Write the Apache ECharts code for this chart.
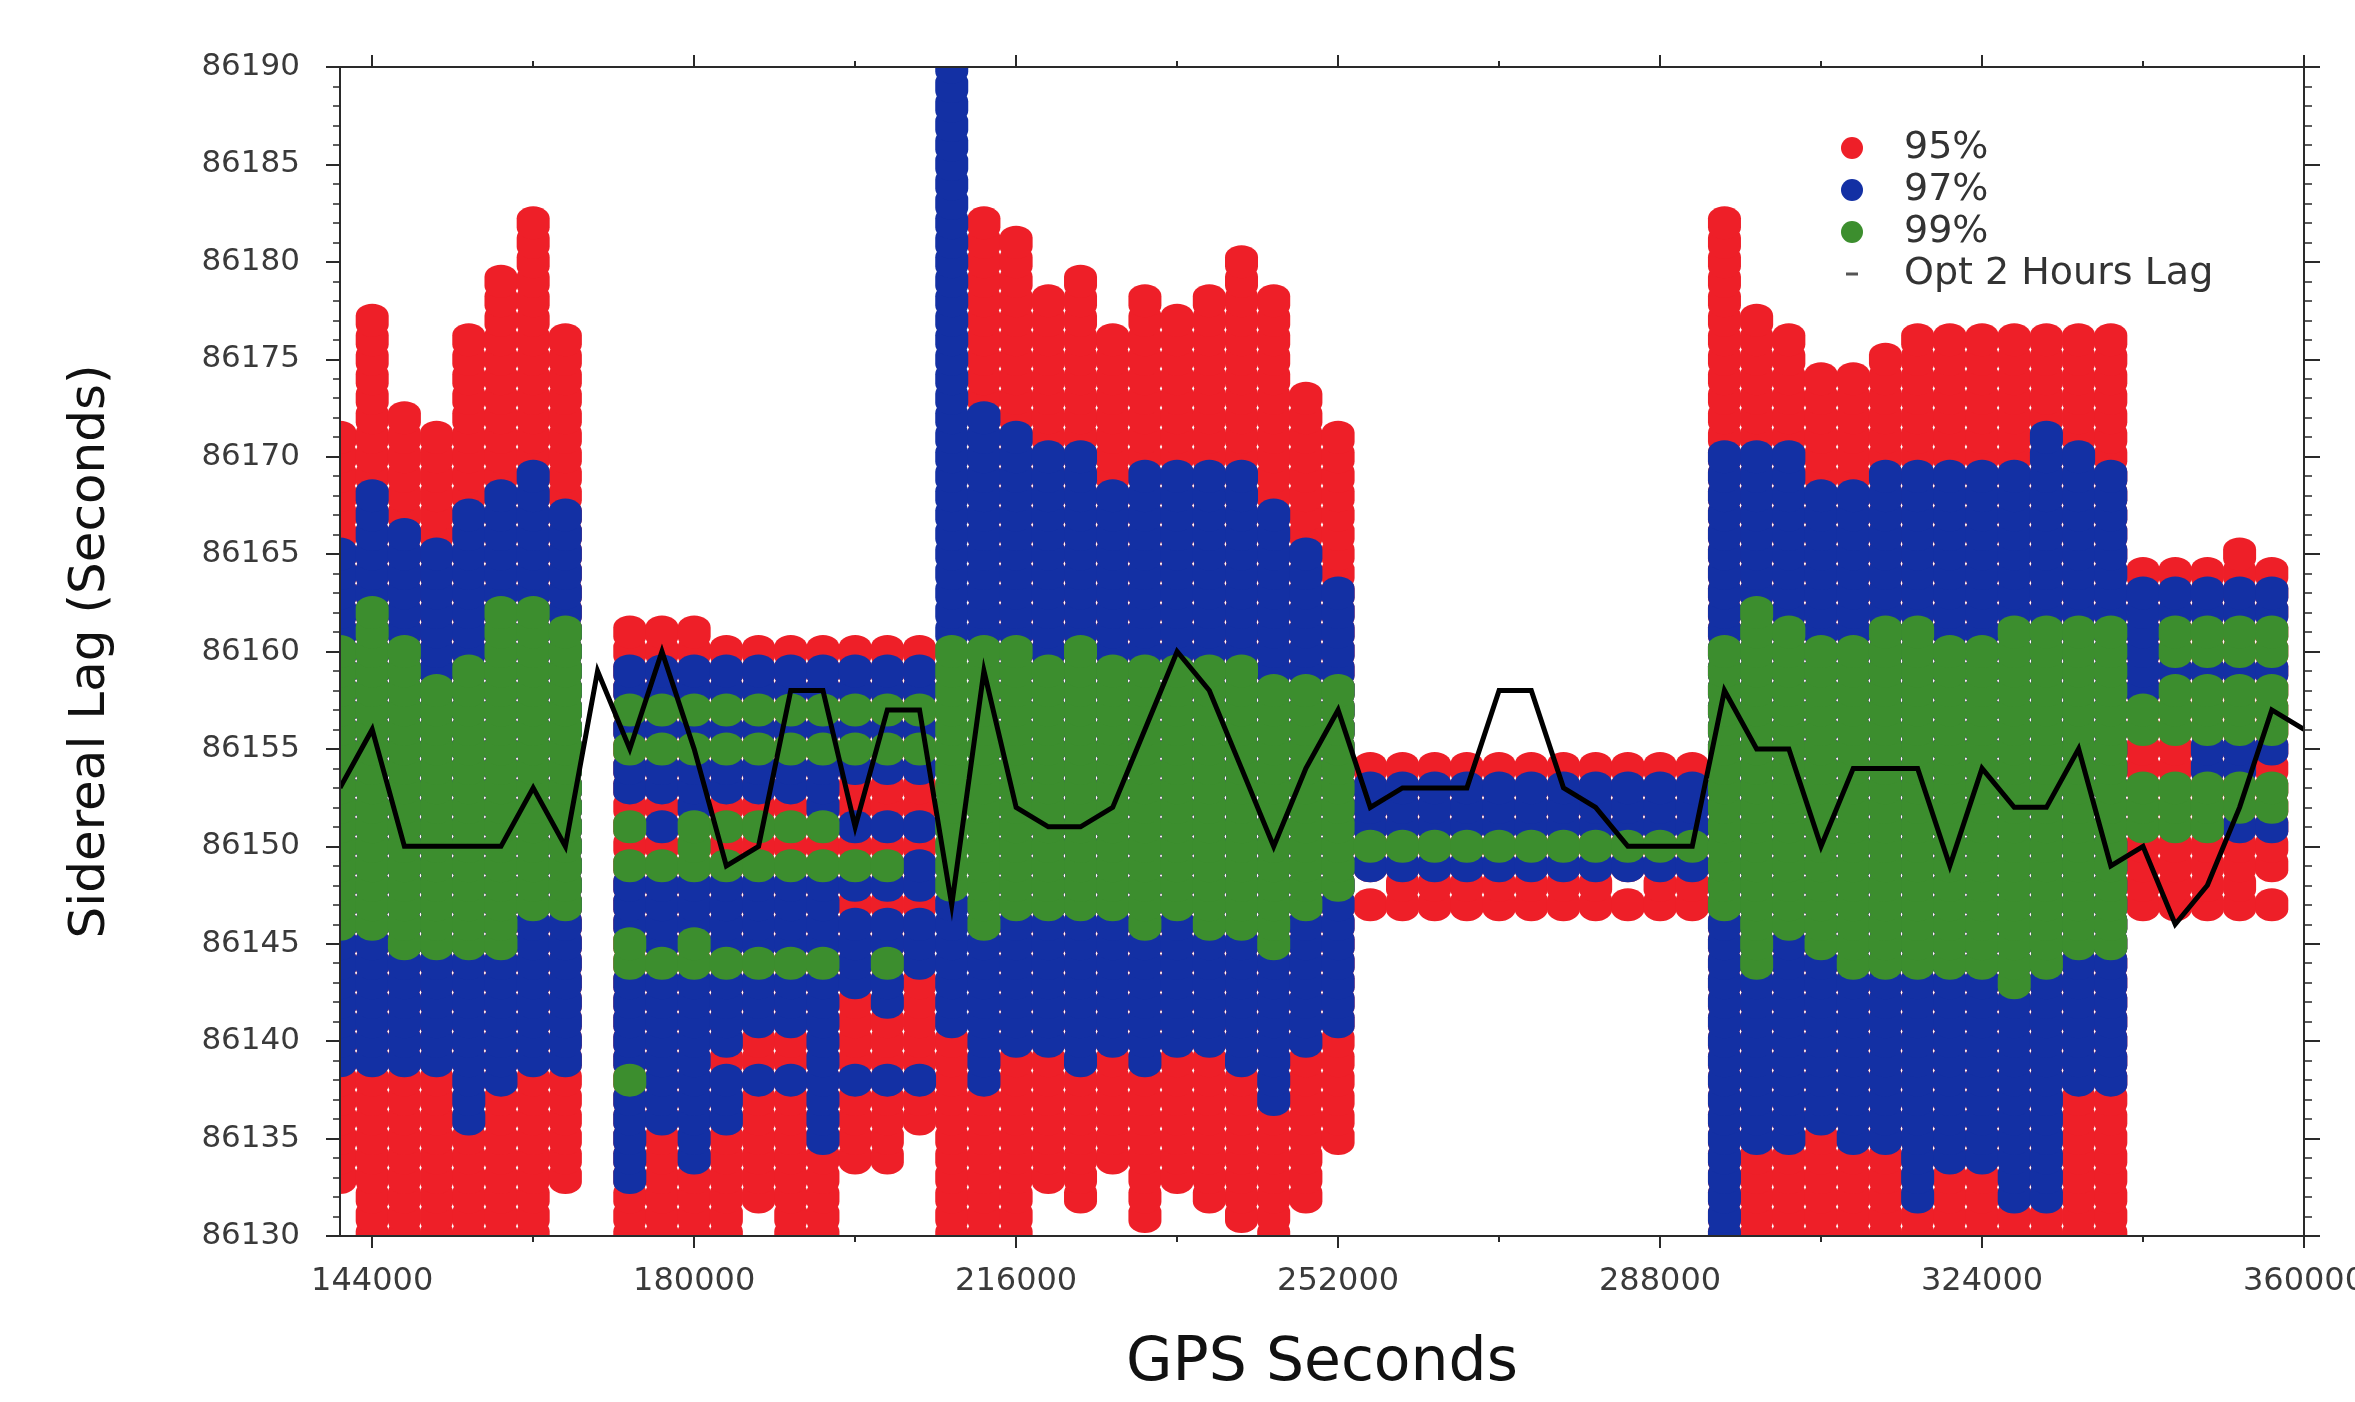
<!DOCTYPE html>
<html>
<head>
<meta charset="utf-8">
<script src="https://cdn.jsdelivr.net/npm/echarts@6/dist/echarts.min.js"></script>
<style>
html,body{margin:0;padding:0;background:#ffffff;}
#chart{width:2355px;height:1402px;}
</style>
</head>
<body>
<div id="chart"></div>
<script>
// ---------- DATA ----------
// Each entry: [GPS second of the hourly column, lowest lag (s), highest lag (s)]
// A dot is drawn at every whole second inside each run.
const red95 = [
  [140400,86133,86171],[144000,86130,86177],[147600,86130,86172],[151200,86130,86171],
  [154800,86130,86176],[158400,86130,86179],[162000,86130,86182],[165600,86133,86176],
  [172800,86130,86161],[176400,86130,86161],[180000,86130,86161],[183600,86130,86160],
  [187200,86132,86160],[190800,86130,86160],[194400,86130,86160],[198000,86134,86160],
  [201600,86134,86160],[205200,86136,86160],[208800,86130,86140],
  [212400,86130,86182],[216000,86130,86181],[219600,86133,86178],[223200,86132,86179],
  [226800,86134,86176],[230400,86131,86178],[234000,86133,86177],[237600,86132,86178],
  [241200,86131,86180],[244800,86130,86178],[248400,86132,86173],[252000,86135,86171],
  [255600,86147,86147],[255600,86149,86154],[259200,86147,86154],[262800,86147,86154],
  [266400,86147,86154],[270000,86147,86154],[273600,86147,86154],[277200,86147,86154],
  [280800,86147,86154],[284400,86147,86147],[284400,86149,86154],[288000,86147,86154],
  [291600,86147,86154],
  [295200,86130,86182],[298800,86130,86177],[302400,86130,86176],[306000,86130,86174],
  [309600,86130,86174],[313200,86130,86175],[316800,86130,86176],[320400,86130,86176],
  [324000,86130,86176],[327600,86130,86176],[331200,86130,86176],[334800,86130,86176],
  [338400,86130,86176],
  [342000,86147,86164],[345600,86147,86164],[349200,86147,86164],[352800,86147,86165],
  [356400,86147,86147],[356400,86149,86164]
];

const blue97 = [
  [140400,86139,86165],[144000,86139,86168],[147600,86139,86166],[151200,86139,86165],
  [154800,86136,86167],[158400,86138,86168],[162000,86139,86169],[165600,86139,86167],
  [172800,86158,86159],[172800,86156,86156],[172800,86153,86154],[172800,86146,86148],[172800,86139,86143],[172800,86133,86137],
  [176400,86158,86159],[176400,86156,86156],[176400,86153,86154],[176400,86151,86151],[176400,86145,86148],[176400,86136,86143],
  [180000,86158,86159],[180000,86156,86156],[180000,86152,86154],[180000,86146,86148],[180000,86134,86143],
  [183600,86158,86159],[183600,86156,86156],[183600,86153,86154],[183600,86145,86148],[183600,86140,86143],[183600,86136,86138],
  [187200,86158,86159],[187200,86156,86156],[187200,86153,86154],[187200,86145,86148],[187200,86141,86143],[187200,86138,86138],
  [190800,86158,86159],[190800,86156,86156],[190800,86153,86154],[190800,86145,86148],[190800,86141,86143],[190800,86138,86138],
  [194400,86158,86159],[194400,86156,86156],[194400,86152,86154],[194400,86145,86148],[194400,86135,86143],
  [198000,86158,86159],[198000,86156,86156],[198000,86154,86154],[198000,86151,86151],[198000,86148,86148],[198000,86143,86146],[198000,86138,86138],
  [201600,86158,86159],[201600,86156,86156],[201600,86154,86154],[201600,86151,86151],[201600,86148,86148],[201600,86145,86146],[201600,86142,86143],[201600,86138,86138],
  [205200,86158,86159],[205200,86156,86156],[205200,86154,86154],[205200,86151,86151],[205200,86148,86149],[205200,86144,86146],[205200,86138,86138],
  [208800,86161,86191],[208800,86141,86147],
  [212400,86138,86172],[216000,86140,86171],[219600,86140,86170],[223200,86139,86170],
  [226800,86140,86168],[230400,86139,86169],[234000,86140,86169],[237600,86140,86169],
  [241200,86139,86169],[244800,86137,86167],[248400,86140,86165],[252000,86141,86163],
  [255600,86151,86153],[255600,86149,86149],[259200,86151,86153],[259200,86149,86149],
  [262800,86151,86153],[262800,86149,86149],[266400,86151,86153],[266400,86149,86149],
  [270000,86151,86153],[270000,86149,86149],[273600,86151,86153],[273600,86149,86149],
  [277200,86151,86153],[277200,86149,86149],[280800,86151,86153],[280800,86149,86149],
  [284400,86151,86153],[284400,86149,86149],[288000,86151,86153],[288000,86149,86149],
  [291600,86151,86153],[291600,86149,86149],
  [295200,86130,86170],[298800,86135,86170],[302400,86135,86170],[306000,86136,86168],
  [309600,86135,86168],[313200,86135,86169],[316800,86132,86169],[320400,86134,86169],
  [324000,86134,86169],[327600,86132,86169],[331200,86132,86171],[334800,86138,86170],
  [338400,86138,86169],
  [342000,86158,86163],
  [345600,86162,86163],[345600,86159,86159],
  [349200,86162,86163],[349200,86159,86159],[349200,86154,86155],
  [352800,86162,86163],[352800,86159,86159],[352800,86154,86155],[352800,86151,86151],
  [356400,86162,86163],[356400,86159,86159],[356400,86155,86155],[356400,86151,86151]
];

const green99 = [
  [140400,86146,86160],[144000,86146,86162],[147600,86145,86160],[151200,86145,86158],
  [154800,86145,86159],[158400,86145,86162],[162000,86147,86162],[165600,86147,86161],
  [172800,86157,86157],[172800,86155,86155],[172800,86151,86151],[172800,86149,86149],[172800,86144,86145],[172800,86138,86138],
  [176400,86157,86157],[176400,86155,86155],[176400,86149,86149],[176400,86144,86144],
  [180000,86157,86157],[180000,86155,86155],[180000,86149,86151],[180000,86144,86145],
  [183600,86157,86157],[183600,86155,86155],[183600,86151,86151],[183600,86149,86149],[183600,86144,86144],
  [187200,86157,86157],[187200,86155,86155],[187200,86151,86151],[187200,86149,86149],[187200,86144,86144],
  [190800,86157,86157],[190800,86155,86155],[190800,86151,86151],[190800,86149,86149],[190800,86144,86144],
  [194400,86157,86157],[194400,86155,86155],[194400,86151,86151],[194400,86149,86149],[194400,86144,86144],
  [198000,86157,86157],[198000,86155,86155],[198000,86149,86149],
  [201600,86157,86157],[201600,86155,86155],[201600,86149,86149],[201600,86144,86144],
  [205200,86157,86157],[205200,86155,86155],
  [208800,86148,86160],
  [212400,86146,86160],[216000,86147,86160],[219600,86147,86159],[223200,86147,86160],
  [226800,86147,86159],[230400,86146,86159],[234000,86147,86159],[237600,86146,86159],
  [241200,86146,86159],[244800,86145,86158],[248400,86147,86158],[252000,86148,86158],
  [255600,86150,86150],[259200,86150,86150],[262800,86150,86150],[266400,86150,86150],
  [270000,86150,86150],[273600,86150,86150],[277200,86150,86150],[280800,86150,86150],
  [284400,86150,86150],[288000,86150,86150],[291600,86150,86150],
  [295200,86147,86160],[298800,86144,86162],[302400,86146,86161],[306000,86145,86160],
  [309600,86144,86160],[313200,86144,86161],[316800,86144,86161],[320400,86144,86160],
  [324000,86144,86160],[327600,86143,86161],[331200,86144,86161],[334800,86145,86161],
  [338400,86145,86161],
  [342000,86156,86157],[342000,86151,86153],
  [345600,86160,86161],[345600,86156,86158],[345600,86151,86153],
  [349200,86160,86161],[349200,86156,86158],[349200,86151,86153],
  [352800,86160,86161],[352800,86156,86158],[352800,86152,86153],
  [356400,86160,86161],[356400,86156,86158],[356400,86152,86153]
];

// Optimal lag over 2 hours (black line), one vertex per hour
const lagTimes = [
  140400,144000,147600,151200,154800,158400,162000,165600,169200,172800,
  176400,180000,183600,187200,190800,194400,198000,201600,205200,208800,
  212400,216000,219600,223200,226800,230400,234000,237600,241200,244800,
  248400,252000,255600,259200,262800,266400,270000,273600,277200,280800,
  284400,288000,291600,295200,298800,302400,306000,309600,313200,316800,
  320400,324000,327600,331200,334800,338400,342000,345600,349200,352800,
  356400,360000
];
const optLag = [
  86153,86156,86150,86150,86150,86150,86153,86150,86159,86155,
  86160,86155,86149,86150,86158,86158,86151,86157,86157,86147,
  86159,86152,86151,86151,86152,86156,86160,86158,86154,86150,
  86154,86157,86152,86153,86153,86153,86158,86158,86153,86152,
  86150,86150,86150,86158,86155,86155,86150,86154,86154,86154,
  86149,86154,86152,86152,86155,86149,86150,86146,86148,86152,
  86157,86156
];

const xLabelTicks = [144000,180000,216000,252000,288000,324000,360000];
const xMinorTicks = [162000,198000,234000,270000,306000,342000];
const seriesNames = ['95%','97%','99%','Opt 2 Hours Lag'];

// ---------- STYLE ----------
const RED = '#EE1F28', BLUE = '#1330A4', GREEN = '#3C8E2E';
const AXIS = '#2a2a2a', LABEL = '#3a3a3a';
const FONT = 'DejaVu Sans';
// dot shape: a wide blob with rounded top and bottom caps so neighbouring dots fuse
const DOT = 'path://M0,12 A16.5,12 0 0 1 33,12 L33,21 A16.5,12 0 0 1 0,21 Z';

function dots(runs){
  const out = [];
  runs.forEach(r => { for (let y = r[1]; y <= r[2]; y++) out.push([r[0], y]); });
  return out;
}

const dotStyle = { symbol:DOT, symbolSize:[33,33], symbolKeepAspect:false, silent:true, animation:false, large:false };

const xBase = { type:'value', min:140400, max:360000, splitLine:{show:false}, gridIndex:0, z:50 };
const DASH = 'path://M0,0L0.2,0L0,0.2Z M94,22L93.8,22L94,21.8Z M41,9.5L53,9.5L53,12.5L41,12.5Z';

// white masks that trim the dot overhang outside the plotting frame
const maskStyle = { fill:'#ffffff' };

const chart = echarts.init(document.getElementById('chart'), null, {renderer:'canvas'});
chart.setOption({
  animation:false,
  backgroundColor:'#ffffff',
  grid:{ left:340, right:51, top:67, bottom:166, containLabel:false, outerBoundsMode:'none' },
  graphic:[
    { type:'rect', silent:true, z:40, left:300, top:1237, shape:{ width:2030, height:26 }, style:maskStyle },
    { type:'rect', silent:true, z:40, left:300, top:20, shape:{ width:2030, height:46 }, style:maskStyle },
    { type:'rect', silent:true, z:40, left:316, top:20, shape:{ width:23, height:1243 }, style:maskStyle }
  ],
  legend:{
    orient:'vertical', left:1800, top:124, itemWidth:94, itemHeight:22, itemGap:4, z:60,
    textStyle:{ fontSize:38, fontFamily:FONT, color:'#333' },
    selectedMode:false,
    data:[
      {name:seriesNames[0], icon:'circle'},
      {name:seriesNames[1], icon:'circle'},
      {name:seriesNames[2], icon:'circle'},
      {name:seriesNames[3], icon:DASH, itemStyle:{color:'#555', borderWidth:0}}
    ]
  },
  xAxis:[
    Object.assign({}, xBase, {
      position:'bottom', name:'GPS Seconds', nameLocation:'middle', nameGap:98,
      nameTextStyle:{ fontSize:60, fontFamily:FONT, color:'#111' },
      axisLine:{ show:true, lineStyle:{ color:AXIS, width:2 } },
      axisTick:{ show:true, length:12, inside:false, customValues:xLabelTicks, lineStyle:{ color:AXIS, width:2 } },
      axisLabel:{ show:true, customValues:xLabelTicks, margin:30, fontSize:32, fontFamily:FONT, color:LABEL,
                  formatter:v => String(v) }
    }),
    Object.assign({}, xBase, {
      position:'bottom', axisLine:{ show:false },
      axisTick:{ show:true, length:6, inside:false, customValues:xMinorTicks, lineStyle:{ color:AXIS, width:2 } },
      axisLabel:{ show:false }
    }),
    Object.assign({}, xBase, {
      position:'top', axisLine:{ show:true, lineStyle:{ color:AXIS, width:2 } },
      axisTick:{ show:true, length:12, inside:false, customValues:xLabelTicks, lineStyle:{ color:AXIS, width:2 } },
      axisLabel:{ show:false }
    }),
    Object.assign({}, xBase, {
      position:'top', axisLine:{ show:false },
      axisTick:{ show:true, length:6, inside:false, customValues:xMinorTicks, lineStyle:{ color:AXIS, width:2 } },
      axisLabel:{ show:false }
    })
  ],
  yAxis:[
    {
      type:'value', position:'left', min:86130, max:86190, interval:5, z:50,
      name:'Sidereal Lag (Seconds)', nameLocation:'middle', nameGap:224, nameRotate:90,
      nameTextStyle:{ fontSize:50, fontFamily:FONT, color:'#111' },
      splitLine:{show:false},
      axisLine:{ show:true, lineStyle:{ color:AXIS, width:2 } },
      axisTick:{ show:true, length:14, lineStyle:{ color:AXIS, width:2 } },
      minorTick:{ show:true, splitNumber:5, length:7, lineStyle:{ color:AXIS, width:1.5 } },
      axisLabel:{ margin:40, fontSize:31, fontFamily:FONT, color:LABEL, formatter:v => String(v) }
    },
    {
      type:'value', position:'right', min:86130, max:86190, interval:5, z:50,
      splitLine:{show:false},
      axisLine:{ show:true, lineStyle:{ color:AXIS, width:2 } },
      axisTick:{ show:true, length:16, lineStyle:{ color:AXIS, width:2 } },
      minorTick:{ show:true, splitNumber:5, length:8, lineStyle:{ color:AXIS, width:1.5 } },
      axisLabel:{ show:false }
    }
  ],
  series:[
    Object.assign({ name:seriesNames[0], type:'scatter', data:dots(red95), itemStyle:{color:RED, opacity:1}, z:2 }, dotStyle),
    Object.assign({ name:seriesNames[1], type:'scatter', data:dots(blue97), itemStyle:{color:BLUE, opacity:1}, z:3 }, dotStyle),
    Object.assign({ name:seriesNames[2], type:'scatter', data:dots(green99), itemStyle:{color:GREEN, opacity:1}, z:4 }, dotStyle),
    {
      name:seriesNames[3], type:'line', z:6, silent:true, animation:false,
      data:lagTimes.map((t,i) => [t, optLag[i]]),
      symbol:'none', itemStyle:{ color:'#000' },
      lineStyle:{ color:'#000', width:5, join:'miter' }
    }
  ]
});
</script>
</body>
</html>
